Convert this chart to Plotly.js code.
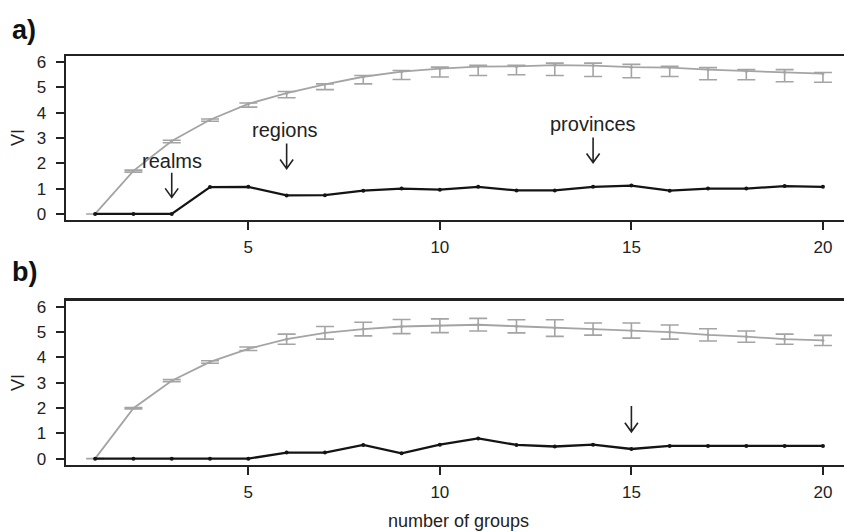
<!DOCTYPE html>
<html><head><meta charset="utf-8">
<script src="https://cdn.plot.ly/plotly-3.0.1.min.js"></script>
<style>html,body{margin:0;padding:0;background:#fff;}#chart{width:844px;height:532px;}</style>
</head><body><div id="chart"></div>
<script>
// number of groups
const groups = [1,2,3,4,5,6,7,8,9,10,11,12,13,14,15,16,17,18,19,20];
// panel a
const aObserved = [0,0,0,1.06,1.07,0.73,0.74,0.92,1.0,0.96,1.07,0.93,0.93,1.07,1.12,0.92,1.0,1.0,1.1,1.07];
const aRandom   = [0,1.70,2.88,3.72,4.35,4.77,5.12,5.42,5.62,5.74,5.82,5.83,5.88,5.86,5.80,5.78,5.70,5.64,5.60,5.54];
const aErrPlus  = [0,0.03,0.03,0.03,0.03,0.07,0.02,0.05,0.05,0.06,0.05,0.04,0.08,0.10,0.11,0.05,0.08,0.06,0.10,0.05];
const aErrMinus = [0,0.05,0.07,0.06,0.13,0.18,0.21,0.28,0.31,0.33,0.35,0.33,0.41,0.43,0.42,0.35,0.40,0.34,0.38,0.34];
// panel b
const bObserved = [0,0,0,0,0,0.24,0.24,0.54,0.21,0.55,0.8,0.54,0.48,0.55,0.38,0.5,0.5,0.5,0.5,0.5];
const bRandom   = [0,1.99,3.08,3.82,4.34,4.72,4.97,5.12,5.22,5.25,5.29,5.23,5.16,5.12,5.06,5.0,4.89,4.82,4.72,4.67];
const bErr      = [0,0.03,0.04,0.05,0.07,0.2,0.25,0.27,0.28,0.27,0.25,0.26,0.33,0.24,0.3,0.28,0.24,0.22,0.2,0.2];
// tick labels
const xTicks = [5,10,15,20];
const yTicks = [0,1,2,3,4,5,6];
// annotation labels [text, x, y]
const labelsA = [["realms",3,2.08],["regions",5.95,3.31],["provinces",14,3.55]];
// arrows [x, top, tip]
const arrowsA = [[3,1.63,0.65],[6,2.78,1.79],[14,3.02,2.03]];
const arrowsB = [[15,2.08,1.06]];

const W=844,H=532,L=66;
const px=p=>(p-L)/(W-L);
const py=p=>1-p/H;
const FONT="Liberation Sans, Arial, sans-serif";
const grey="#a4a4a4", blk="#141414";

function grayTrace(y, ep, em, xa, ya){
  return {x:groups,y:y,xaxis:xa,yaxis:ya,mode:'lines+markers',type:'scatter',
    line:{color:grey,width:1.8},marker:{color:grey,size:3},
    error_y:{type:'data',symmetric:em==null,array:ep,arrayminus:em||undefined,color:grey,thickness:1.6,width:9},
    hoverinfo:'skip',showlegend:false};
}
function blackTrace(y,xa,ya){
  return {x:groups,y:y,xaxis:xa,yaxis:ya,mode:'lines+markers',type:'scatter',
    line:{color:blk,width:2.3},marker:{color:blk,size:4},hoverinfo:'skip',showlegend:false};
}
const data=[grayTrace(aRandom,aErrPlus,aErrMinus,'x','y'),blackTrace(aObserved,'x','y'),
            grayTrace(bRandom,bErr,null,'x2','y2'),blackTrace(bObserved,'x2','y2')];

function xax(anchor){return {anchor:anchor,domain:[0,1],range:[0.24,20.55],tickvals:xTicks,ticks:'outside',ticklen:8,tickwidth:2,tickcolor:'#222',
  showline:true,linewidth:2.4,linecolor:'#222',mirror:true,showgrid:false,zeroline:false,ticklabelstandoff:2,
  tickfont:{family:FONT,size:17,color:'#222'}};}
function yax(anchor,dom){return {anchor:anchor,domain:dom,range:[-0.24,6.24],tickvals:yTicks,ticks:'outside',ticklen:8,tickwidth:2,tickcolor:'#222',
  showline:true,linewidth:2.4,linecolor:'#222',mirror:false,showgrid:false,zeroline:false,ticklabelstandoff:6,
  tickfont:{family:FONT,size:17,color:'#222'}};}

function ann(text,x,y,size,extra){
  return Object.assign({text:text,x:x,y:y,xref:'paper',yref:'paper',xanchor:'center',yanchor:'middle',showarrow:false,
    font:{family:FONT,size:size,color:'#222'}},extra||{});
}
const annotations=[];
labelsA.forEach(l=>annotations.push({text:l[0],x:l[1],y:l[2],xref:'x',yref:'y',xanchor:'center',yanchor:'middle',showarrow:false,font:{family:FONT,size:20,color:'#222'}}));
annotations.push(ann('<b>a)</b>',px(24),py(30),27,{font:{family:FONT,size:27,color:'#111'}}));
annotations.push(ann('<b>b)</b>',px(24),py(272),27,{font:{family:FONT,size:27,color:'#111'}}));
annotations.push(ann('VI',px(18),py(138),18,{textangle:-90}));
annotations.push(ann('VI',px(18),py(383),18,{textangle:-90}));
annotations.push(ann('number of groups',px(458),py(521),18));

const shapes=[];
function arrow(a,xr,yr){
  const [x,top,tip]=a;
  shapes.push({type:'path',xref:xr,yref:yr,path:`M${x},${top} L${x},${tip} M${x-0.17},${tip+0.36} L${x},${tip} L${x+0.17},${tip+0.36}`,line:{color:'#222',width:1.6}});
}
arrowsA.forEach(a=>arrow(a,'x','y'));
arrowsB.forEach(a=>arrow(a,'x2','y2'));

const layout={width:W,height:H,margin:{l:L,r:0,t:0,b:0},paper_bgcolor:'#fff',plot_bgcolor:'#fff',
  xaxis:xax('y'),yaxis:yax('x',[py(220),py(56)]),
  xaxis2:xax('y2'),yaxis2:yax('x2',[py(464.7),py(300.7)]),
  annotations:annotations,shapes:shapes,showlegend:false};
Plotly.newPlot('chart',data,layout,{staticPlot:true,displayModeBar:false});
</script></body></html>
